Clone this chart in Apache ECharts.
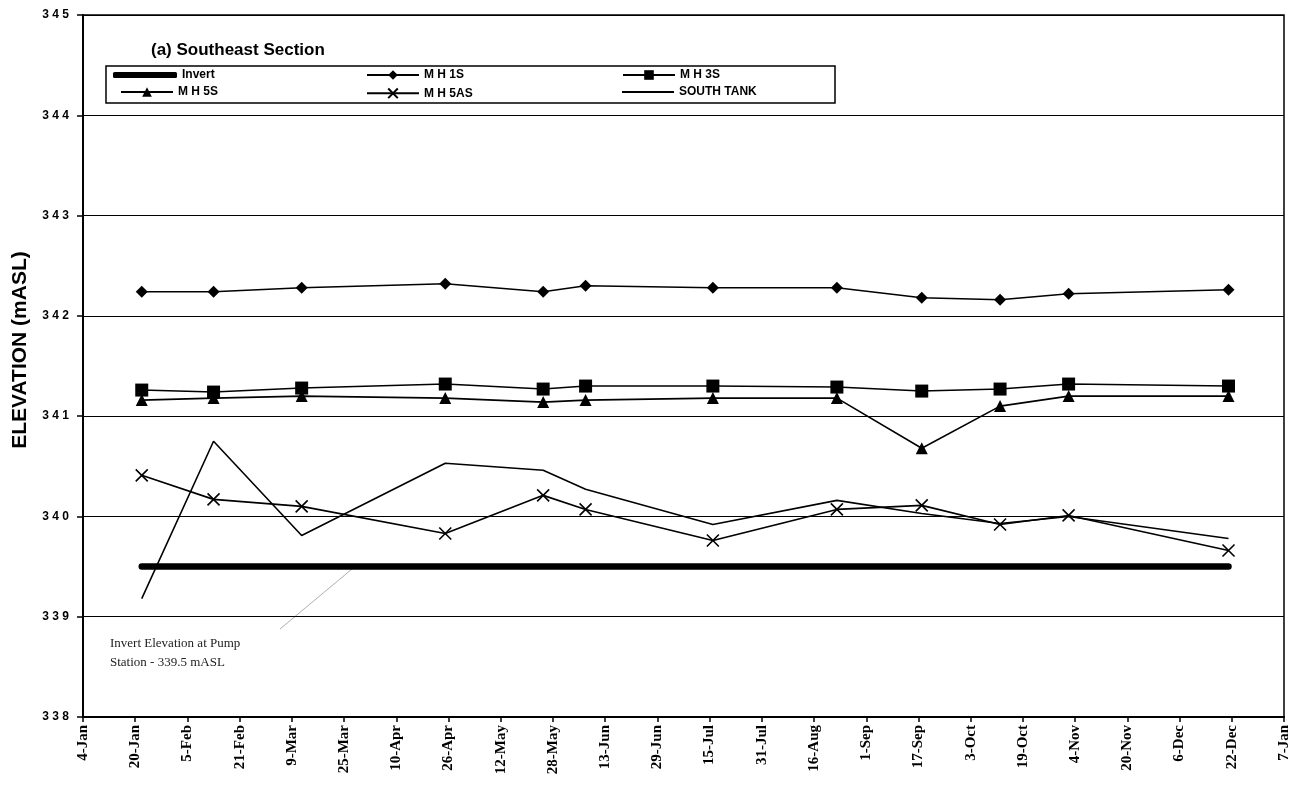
<!DOCTYPE html>
<html>
<head>
<meta charset="utf-8">
<title>Southeast Section</title>
<script src="https://cdn.jsdelivr.net/npm/echarts@6/dist/echarts.min.js"></script>
<style>
  html, body { margin: 0; padding: 0; background: #fff; }
  #chart { width: 1301px; height: 804px; }
</style>
</head>
<body>
<div id="chart"></div>
<script>
// sample dates (non-leap year), axis starts 4-Jan and ticks every 16 days
const startDate = "2001-01-04";
const sampleDates = [
  "2001-01-22", "2001-02-13", "2001-03-12", "2001-04-25", "2001-05-25", "2001-06-07",
  "2001-07-16", "2001-08-23", "2001-09-18", "2001-10-12", "2001-11-02", "2001-12-21",
];
const tickLabels = [
  "4-Jan", "20-Jan", "5-Feb", "21-Feb", "9-Mar", "25-Mar", "10-Apr", "26-Apr",
  "12-May", "28-May", "13-Jun", "29-Jun", "15-Jul", "31-Jul", "16-Aug", "1-Sep",
  "17-Sep", "3-Oct", "19-Oct", "4-Nov", "20-Nov", "6-Dec", "22-Dec", "7-Jan",
];

const invert = [339.5, 339.5, 339.5, 339.5, 339.5, 339.5, 339.5, 339.5, 339.5, 339.5, 339.5, 339.5];
const mh1s = [342.24, 342.24, 342.28, 342.32, 342.24, 342.30, 342.28, 342.28, 342.18, 342.16, 342.22, 342.26];
const mh3s = [341.26, 341.24, 341.28, 341.32, 341.27, 341.30, 341.30, 341.29, 341.25, 341.27, 341.32, 341.30];
const mh5s = [341.16, 341.18, 341.20, 341.18, 341.14, 341.16, 341.18, 341.18, 340.68, 341.10, 341.20, 341.20];
const mh5as = [340.41, 340.17, 340.10, 339.83, 340.21, 340.07, 339.76, 340.07, 340.11, 339.92, 340.01, 339.66];
const southTank = [339.18, 340.75, 339.81, 340.53, 340.46, 340.27, 339.92, 340.16, 340.03, 339.93, 340.00, 339.78];

const DAY = 24 * 3600 * 1000;
const t0 = Date.parse(startDate);
const dayOffsets = sampleDates.map((d) => Math.round((Date.parse(d) - t0) / DAY));
const pairs = (vals) => vals.map((v, i) => [dayOffsets[i], v]);

const chart = echarts.init(document.getElementById("chart"));

const legendFont = { color: "#000", fontFamily: "Liberation Sans", fontWeight: "bold", fontSize: 12 };
// one legend per entry so the two rows line up like the original box
const legendSpots = [
  { name: "Invert", left: 113, top: 69, w: 64, h: 6, icon: "roundRect" },
  { name: "M H 1S", left: 366, top: 69, w: 52, h: 12 },
  { name: "M H 3S", left: 622, top: 69, w: 52, h: 12 },
  { name: "M H 5S", left: 120, top: 86, w: 52, h: 12 },
  { name: "M H 5AS", left: 366, top: 86, w: 52, h: 12 },
  { name: "SOUTH TANK", left: 622, top: 86, w: 52, h: 2, icon: "rect" },
];

const xMark = "path://M0,0L10,10M10,0L0,10";

function lineSeries(name, data, symbol, size, extra) {
  return Object.assign({
    name: name,
    type: "line",
    data: pairs(data),
    symbol: symbol,
    symbolSize: size,
    showSymbol: symbol !== "none",
    lineStyle: { color: "#000", width: 1.6 },
    itemStyle: { color: "#000", borderColor: "#000", borderWidth: 0 },
    emphasis: { disabled: true },
    animation: false,
  }, extra || {});
}

function legendFor(l) {
  const lg = {
    data: [l.icon ? { name: l.name, icon: l.icon } : l.name],
    left: l.left,
    top: l.top,
    padding: 0,
    itemWidth: l.w,
    itemHeight: l.h,
    itemGap: 0,
    selectedMode: false,
    textStyle: legendFont,
  };
  if (l.icon) lg.itemStyle = { color: "#000", borderWidth: 0 };
  return lg;
}

const option = {
  backgroundColor: "#fff",
  title: {
    text: "(a) Southeast Section",
    left: 146,
    top: 37,
    textStyle: { fontFamily: "Liberation Sans", fontWeight: "bold", fontSize: 17, color: "#000" },
  },
  legend: legendSpots.map(legendFor),
  grid: {
    left: 83,
    right: 17,
    top: 15,
    bottom: 87,
    show: true,
    borderColor: "#000",
    borderWidth: 1.5,
  },
  xAxis: {
    type: "value",
    min: 0,
    max: 368,
    interval: 16,
    axisLine: { show: true, lineStyle: { color: "#000", width: 2 } },
    axisTick: { show: true, length: 5, lineStyle: { color: "#000", width: 1.5 } },
    splitLine: { show: false },
    axisLabel: {
      rotate: 90,
      margin: 8,
      color: "#000",
      fontFamily: "Liberation Serif",
      fontWeight: "bold",
      fontSize: 15,
      formatter: (v) => tickLabels[Math.round(v / 16)] || "",
    },
  },
  yAxis: {
    type: "value",
    min: 338,
    max: 345,
    interval: 1,
    axisLine: { show: true, lineStyle: { color: "#000", width: 2 } },
    axisTick: { show: true, length: 6, lineStyle: { color: "#000", width: 1.5 } },
    splitLine: { show: true, lineStyle: { color: "#000", width: 1.2 } },
    axisLabel: {
      margin: 14,
      color: "#000",
      fontFamily: "Liberation Sans",
      fontWeight: "bold",
      fontSize: 12,
      formatter: (v) => String(v).split("").join(" "),
    },
  },
  graphic: [
    // legend frame
    {
      type: "rect",
      shape: { x: 106, y: 66, width: 729, height: 37 },
      style: { fill: "#fff", stroke: "#000", lineWidth: 1.5 },
    },
    {
      type: "text",
      x: 20,
      y: 350,
      rotation: Math.PI / 2,
      style: {
        text: "ELEVATION (mASL)",
        fill: "#000",
        font: "bold 21px 'Liberation Sans'",
        align: "center",
        verticalAlign: "middle",
      },
    },
    {
      type: "line",
      shape: { x1: 280, y1: 629, x2: 352, y2: 569 },
      style: { stroke: "#999", lineWidth: 0.8 },
    },
    {
      type: "text",
      left: 110,
      top: 634,
      style: {
        text: "Invert Elevation at Pump\nStation - 339.5 mASL",
        fill: "#222",
        font: "13px 'Liberation Serif'",
        lineHeight: 19,
      },
    },
  ],
  series: [
    lineSeries("Invert", invert, "none", 0, {
      lineStyle: { color: "#000", width: 6.5, cap: "round" },
    }),
    lineSeries("M H 1S", mh1s, "diamond", 12),
    lineSeries("M H 3S", mh3s, "rect", 13),
    lineSeries("M H 5S", mh5s, "triangle", 12),
    lineSeries("M H 5AS", mh5as, xMark, 12, {
      itemStyle: { color: "none", borderColor: "#000", borderWidth: 1.6 },
    }),
    lineSeries("SOUTH TANK", southTank, "none", 0),
  ],
};

chart.setOption(option);
window.addEventListener("resize", () => chart.resize());
</script>
</body>
</html>
